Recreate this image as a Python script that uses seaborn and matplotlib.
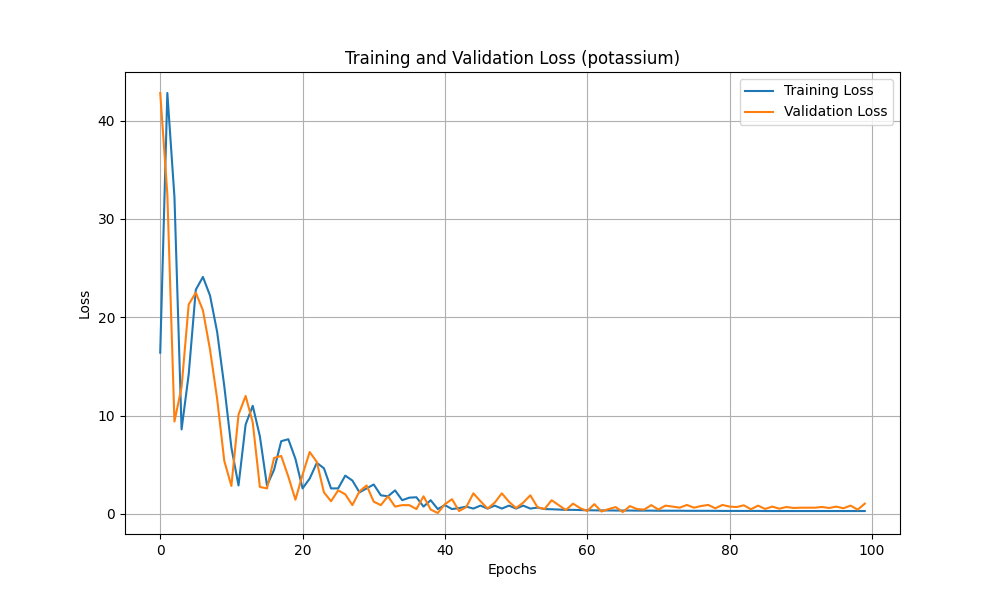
import matplotlib
matplotlib.use("Agg")
import matplotlib.pyplot as plt
import seaborn as sns
import numpy as np
import pandas as pd

train_loss = [
    16.4, 42.8, 32.2, 8.6, 14.2, 22.8, 24.1, 22.2, 18.5, 13.0,
    6.75, 2.9, 9.1, 11.0, 7.9, 2.9, 4.5, 7.4, 7.6, 5.6,
    2.6, 3.6, 5.2, 4.65, 2.6, 2.6, 3.9, 3.4, 2.2, 2.6,
    3.0, 1.9, 1.8, 2.4, 1.4, 1.66, 1.7, 0.75, 1.4, 0.5,
    0.9, 0.5, 0.6, 0.75, 0.55, 0.85, 0.55, 0.85, 0.55, 0.85,
    0.55, 0.85, 0.55, 0.65, 0.5, 0.48, 0.45, 0.42, 0.42, 0.4,
    0.38, 0.37, 0.36, 0.36, 0.35, 0.35, 0.35, 0.34, 0.34, 0.34,
    0.33, 0.33, 0.33, 0.33, 0.32, 0.32, 0.32, 0.32, 0.32, 0.31,
    0.31, 0.31, 0.31, 0.31, 0.31, 0.3, 0.3, 0.3, 0.3, 0.3,
    0.3, 0.3, 0.3, 0.3, 0.3, 0.3, 0.3, 0.3, 0.3, 0.3,
]
val_loss = [
    42.8, 32.5, 9.4, 12.9, 21.3, 22.5, 20.7, 16.7, 11.7, 5.4,
    2.85, 10.1, 12.0, 9.3, 2.75, 2.6, 5.7, 5.9, 3.8, 1.45,
    4.0, 6.3, 5.3, 2.2, 1.3, 2.4, 2.0, 0.9, 2.3, 2.9,
    1.25, 0.9, 1.8, 0.75, 0.9, 0.9, 0.5, 1.8, 0.45, 0.1,
    1.0, 1.5, 0.3, 0.7, 2.1, 1.3, 0.55, 1.15, 2.1, 1.25,
    0.6, 1.15, 1.9, 0.7, 0.5, 1.4, 0.9, 0.4, 1.05, 0.6,
    0.3, 1.0, 0.25, 0.5, 0.7, 0.2, 0.8, 0.5, 0.45, 0.9,
    0.45, 0.85, 0.75, 0.64, 0.92, 0.64, 0.81, 0.92, 0.58, 0.92,
    0.75, 0.71, 0.88, 0.48, 0.85, 0.51, 0.75, 0.54, 0.71, 0.61,
    0.64, 0.64, 0.64, 0.71, 0.61, 0.75, 0.58, 0.85, 0.44, 1.05,
]
epochs = list(range(len(train_loss)))

fig, ax = plt.subplots(figsize=(10, 6), dpi=100)
sns.lineplot(x=epochs, y=train_loss, ax=ax, label="Training Loss", color="#1f77b4")
sns.lineplot(x=epochs, y=val_loss, ax=ax, label="Validation Loss", color="#ff7f0e")
ax.set_title("Training and Validation Loss (potassium)")
ax.set_xlabel("Epochs")
ax.set_ylabel("Loss")
ax.grid(True)
ax.legend(loc="upper right")
fig.savefig("out.png", dpi=100)
